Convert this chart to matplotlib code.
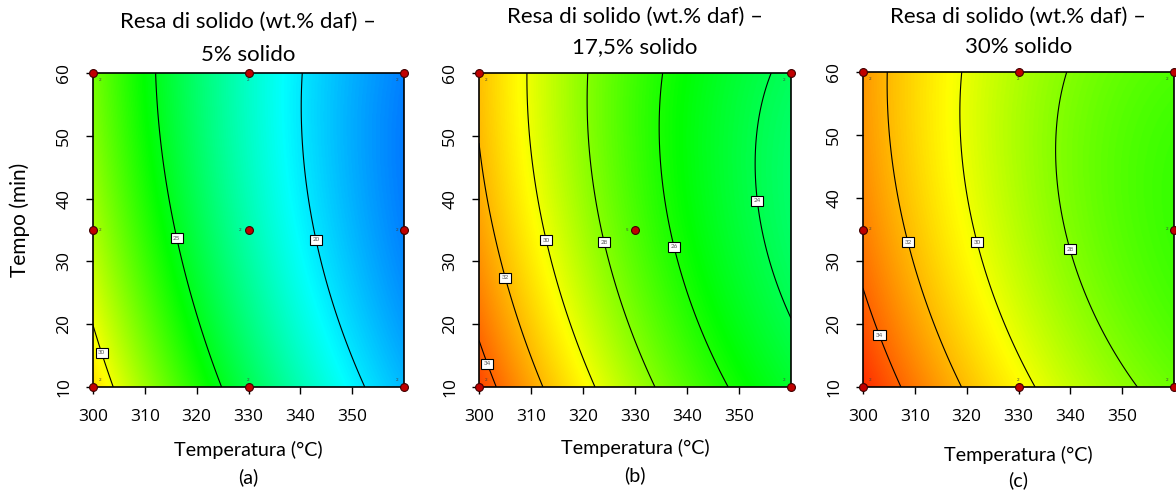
import numpy as np
import matplotlib
matplotlib.use("Agg")
import matplotlib.pyplot as plt
from matplotlib.colors import LinearSegmentedColormap, Normalize

plt.rcParams['font.family'] = ['Lato', 'DejaVu Sans']

# quadratic response-surface models in coded units
# x1 = (T - 330) / 30, x2 = (t - 35) / 25
# coefficient order: b0, b1 (T), b2 (t), b12, b11, b22
coef_5 = [22.14, -5.54, -1.155, 0.51, 1.08, 0.625]
coef_17 = [26.97, -4.545, -0.975, 0.515, 1.10, 0.685]
coef_30 = [28.93, -3.43, -0.805, 0.525, 1.05, 0.675]

levels_5 = [20, 25, 30]
levels_17 = [24, 26, 28, 30, 32, 34]
levels_30 = [28, 30, 32, 34]

# where the contour value boxes sit (T, t)
labpos_5 = [(342.6, 33.4), (315.8, 33.6), (301.6, 15.4)]
labpos_17 = [(353.3, 39.6), (337.5, 32.3), (324.0, 33.0), (312.7, 33.3), (305.0, 27.4), (301.5, 13.7)]
labpos_30 = [(339.8, 31.8), (322.0, 33.0), (308.7, 33.0), (303.5, 18.3)]

# design points and replicate counts
pts_T_5 = [300, 330, 360, 300, 330, 360, 300, 330, 360]
pts_t_5 = [60, 60, 60, 35, 35, 35, 10, 10, 10]
reps_5 = [2, 2, 2, 2, 2, 2, 2, 2, 2]

pts_T_17 = [300, 360, 330, 300, 360]
pts_t_17 = [60, 60, 35, 10, 10]
reps_17 = [2, 2, 5, 2, 2]

pts_T_30 = [300, 330, 360, 300, 360, 300, 330, 360]
pts_t_30 = [60, 60, 60, 35, 35, 10, 10, 10]
reps_30 = [2, 2, 2, 2, 2, 2, 2, 2]

titles = [("Resa di solido (wt.% daf) \u2013", "5% solido"),
          ("Resa di solido (wt.% daf) \u2013", "17,5% solido"),
          ("Resa di solido (wt.% daf) \u2013", "30% solido")]
tags = ["(a)", "(b)", "(c)"]

T_lim = (300, 360)
t_lim = (10, 60)
x_ticks = [300, 310, 320, 330, 340, 350]
y_ticks = [10, 20, 30, 40, 50, 60]

# blue -> cyan -> green -> yellow -> red colour ramp
vmin, vmax = 14.7, 36.5
stops = [(14.7, "#0000ff"), (20.5, "#00ffff"), (25.5, "#00ff00"),
         (30.3, "#ffff00"), (36.5, "#ff0000")]
cmap = LinearSegmentedColormap.from_list(
    "ramp", [((v - vmin) / (vmax - vmin), c) for v, c in stops])
norm = Normalize(vmin, vmax)


def surface(coef, T, t):
    x1 = (T - 330) / 30
    x2 = (t - 35) / 25
    b0, b1, b2, b12, b11, b22 = coef
    return b0 + b1 * x1 + b2 * x2 + b12 * x1 * x2 + b11 * x1 ** 2 + b22 * x2 ** 2


W, H = 1176, 492
fig = plt.figure(figsize=(W / 100, H / 100), dpi=100)

# axes boxes in pixels: left, right, top, bottom
boxes = [(93, 404, 73, 387), (479, 791, 73, 387), (863, 1174, 72, 387)]
title_y = [(22, 55), (17, 47), (17, 47)]
xlab_y = [(450, 477), (448, 475), (455, 480)]

panels = [
    (coef_5, levels_5, labpos_5, pts_T_5, pts_t_5, reps_5),
    (coef_17, levels_17, labpos_17, pts_T_17, pts_t_17, reps_17),
    (coef_30, levels_30, labpos_30, pts_T_30, pts_t_30, reps_30),
]

Tg, tg = np.meshgrid(np.linspace(*T_lim, 400), np.linspace(*t_lim, 400))

for i, (coef, levels, labpos, pT, pt, reps) in enumerate(panels):
    l, r, tp, bt = boxes[i]
    ax = fig.add_axes([l / W, 1 - bt / H, (r - l) / W, (bt - tp) / H])
    Z = surface(coef, Tg, tg)
    ax.imshow(Z, extent=(*T_lim, *t_lim), origin="lower", aspect="auto",
              cmap=cmap, norm=norm, interpolation="bilinear")
    cs = ax.contour(Tg, tg, Z, levels=levels, colors="black", linewidths=0.8)
    texts = ax.clabel(cs, fmt="%d", fontsize=4.5, inline=False, manual=labpos)
    for tx in texts:
        tx.set_rotation(0)
        tx.set_bbox(dict(facecolor="white", edgecolor="black", linewidth=0.8,
                         boxstyle="square,pad=0.4"))
        tx.set_color("#555555")
        tx.set_zorder(6)

    ax.scatter(pT, pt, s=32, color="#c00000", edgecolors="#400000",
               linewidths=0.8, zorder=7, clip_on=False)
    for x, y, n in zip(pT, pt, reps):
        dx = 5 if x == 300 else (-5 if x == 360 else 0)
        dy = -5 if y == 60 else (5 if y == 10 else 0)
        if x == 330 and y == 35:
            dx = -6
        ax.annotate(str(n), (x, y), xytext=(dx, dy), textcoords="offset points",
                    fontsize=3.2, color="#404040", ha="center", va="center", zorder=8)

    ax.set_xlim(*T_lim)
    ax.set_ylim(*t_lim)
    ax.set_xticks(x_ticks)
    ax.set_yticks(y_ticks)
    ax.tick_params(direction="out", length=5, width=1, pad=11,
                   labelsize=12.5, labelfontfamily="Open Sans")
    ax.tick_params(axis="y", labelrotation=90, pad=10)
    for lab in ax.get_yticklabels():
        lab.set_va("center")
    for sp in ax.spines.values():
        sp.set_linewidth(1.2)

    cx = (l + r) / 2
    fig.text(cx / W, 1 - title_y[i][0] / H, titles[i][0],
             ha="center", va="center", fontsize=16)
    fig.text(cx / W, 1 - title_y[i][1] / H, titles[i][1],
             ha="center", va="center", fontsize=16)
    fig.text(cx / W, 1 - xlab_y[i][0] / H, "Temperatura (\u00b0C)",
             ha="center", va="center", fontsize=14.2)
    fig.text(cx / W, 1 - xlab_y[i][1] / H, tags[i],
             ha="center", va="center", fontsize=14.2)

fig.text(20 / W, 1 - 220 / H, "Tempo (min)", rotation=90,
         ha="center", va="center", fontsize=15)

fig.savefig("out.png", dpi=100)
